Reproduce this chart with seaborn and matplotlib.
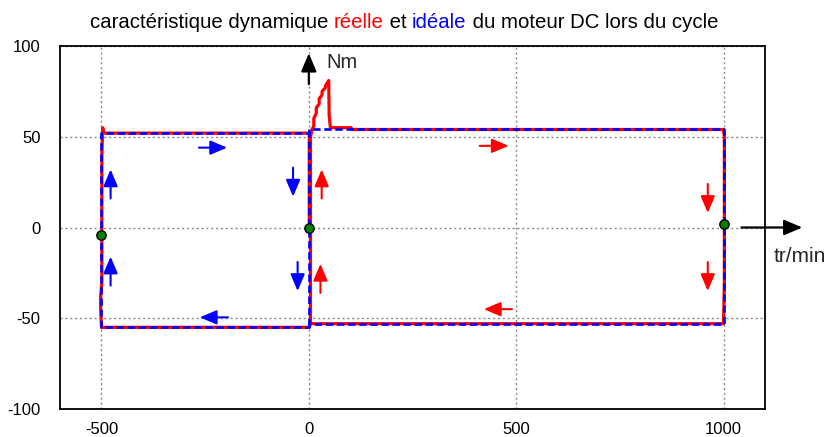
import numpy as np
import pandas as pd
import matplotlib
matplotlib.use("Agg")
import matplotlib.pyplot as plt
import seaborn as sns

# ---------------- data (speed in tr/min, torque in Nm) ----------------
ideal_speed = [0, 0, -500, -500, 0, 0, 1000, 1000, 0, 0]
ideal_torque = [-53, -55, -55, 52, 52, 54, 54, -53, -53, 52]

real_speed = [4, 4, 8, 12, 12, 18, 18, 25, 25, 32, 32, 40, 40, 48, 49, 52, 102, 104,
              1000, 1002, 1002, 1000, 4, 1, -500, -502, -502, -499, -499, -497, -495, 1, 1]
real_torque = [-53, 50, 54, 56, 60, 63, 66, 68, 71, 73, 75, 77, 78, 81, 62, 55, 55, 54,
               54, 50, -30, -53, -53, -55, -55, -45, -38, -30, 40, 55, 52, 52, 0]

dot_speed = [-500, 0, 1000]
dot_torque = [-4, 0, 2]

# direction arrows (tail -> head)
blue_x0 = [-478, -478, -265, -195, -38, -27]
blue_y0 = [16, -32, 44, -49.5, 33, -19]
blue_x1 = [-478, -478, -197, -263, -38, -27]
blue_y1 = [32, -16, 44, -49.5, 17, -35]

red_x0 = [31, 28, 412, 490, 962, 962]
red_y0 = [16, -36, 45, -45, 24, -19]
red_x1 = [31, 28, 482, 422, 962, 962]
red_y1 = [32, -20, 45, -45, 8, -35]

x_ticks = [-500, 0, 500, 1000]
y_ticks = [-100, -50, 0, 50, 100]

title_parts = ["caractéristique dynamique ", "réelle", " et ", "idéale", " du moteur DC lors du cycle"]
title_colors = ["black", "red", "black", "blue", "black"]

# ---------------- style ----------------
sns.set_style("white")
plt.rcParams["font.family"] = ["Liberation Sans", "DejaVu Sans"]
plt.rcParams["axes.unicode_minus"] = False

W, H = 829, 437
fig = plt.figure(figsize=(W / 100, H / 100), dpi=100)
ax = fig.add_axes([60 / W, 1 - 409 / H, 705 / W, 363 / H])

real_df = pd.DataFrame({"speed": real_speed, "torque": real_torque})
ideal_df = pd.DataFrame({"speed": ideal_speed, "torque": ideal_torque})

sns.lineplot(data=real_df, x="speed", y="torque", sort=False, estimator=None,
             color="#ff0000", lw=2.3, ax=ax, zorder=3)
sns.lineplot(data=ideal_df, x="speed", y="torque", sort=False, estimator=None,
             color="#0000ff", lw=1.9, linestyle=(0, (2.8, 1.4)), ax=ax, zorder=4)
sns.scatterplot(x=dot_speed, y=dot_torque, color="#008000", edgecolor="black",
                linewidth=1, s=45, ax=ax, zorder=6)

ax.set_xlim(-600, 1100)
ax.set_ylim(-100, 100)
ax.set_xticks(x_ticks)
ax.set_yticks(y_ticks)
ax.set_xlabel("")
ax.set_ylabel("")
ax.grid(True, color="#888888", linestyle=(0, (1.5, 2)), lw=1)
ax.tick_params(axis="both", length=0, labelsize=12, colors="black")
ax.tick_params(axis="y", pad=14)
ax.tick_params(axis="x", pad=9)
for s in ax.spines.values():
    s.set_color("black")
    s.set_linewidth(1.3)
    s.set_visible(True)

def arrow(x0, y0, x1, y1, color, lw=1.5, ms=12):
    ax.annotate("", xy=(x1, y1), xytext=(x0, y0),
                arrowprops=dict(arrowstyle="-|>,head_length=0.85,head_width=0.36",
                                mutation_scale=ms, color=color, lw=lw,
                                shrinkA=0, shrinkB=0),
                annotation_clip=False, zorder=7)

for a, b, c, d in zip(blue_x0, blue_y0, blue_x1, blue_y1):
    arrow(a, b, c, d, "#0000ff")
for a, b, c, d in zip(red_x0, red_y0, red_x1, red_y1):
    arrow(a, b, c, d, "#ff0000")

# axis arrows
arrow(0, 79, 0, 96, "black", lw=1.6, ms=13)
arrow(1043, 0, 1190, 0, "black", lw=1.6, ms=13)
ax.text(42, 91, "Nm", fontsize=14.5, va="center", ha="left")
ax.text(1122, -16, "tr/min", fontsize=15, va="center", ha="left", clip_on=False)

# multicolour title
fig.canvas.draw()
renderer = fig.canvas.get_renderer()
fs = 14.7

def text_w(s):
    t = fig.text(0, 0, s + "x", fontsize=fs)
    t2 = fig.text(0, 0, "x", fontsize=fs)
    w = t.get_window_extent(renderer).width - t2.get_window_extent(renderer).width
    t.remove(); t2.remove()
    return w

widths = [text_w(p) for p in title_parts]
total = sum(widths)
x = (404 - total / 2)
ybase = 1 - 28 / H
for p, c, w in zip(title_parts, title_colors, widths):
    fig.text(x / W, ybase, p, color=c, fontsize=fs, ha="left", va="baseline")
    x += w

fig.savefig("out.png", dpi=100)
